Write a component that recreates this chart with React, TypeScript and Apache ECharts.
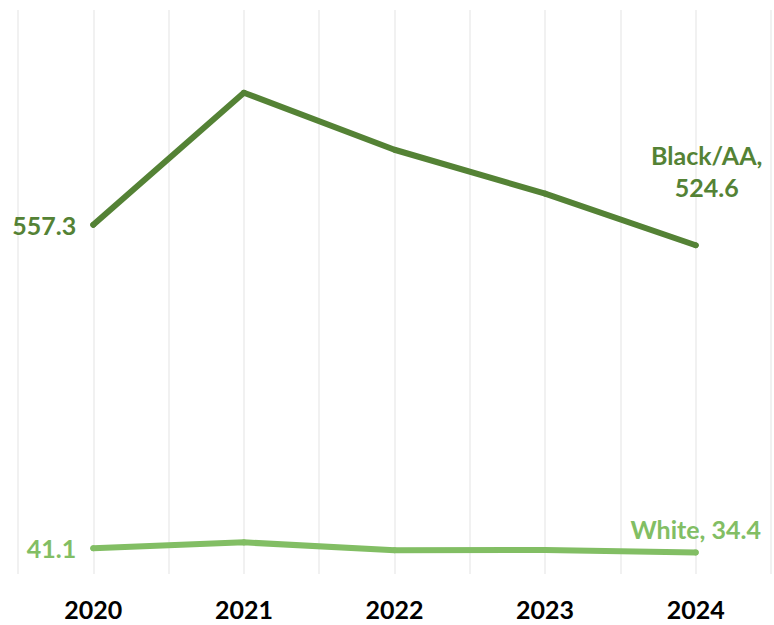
import React, { useEffect, useRef } from "react";
import * as echarts from "echarts";

const YEARS = ["2020", "2021", "2022", "2023", "2024"];
const BLACK_AA = [557.3, 768.0, 677.0, 607.0, 524.6];
const WHITE = [41.1, 50.5, 38.0, 38.2, 34.4];

const DARK = "#548235";
const LIGHT = "#82BE64";
const FONT = "Lato";

export default function App() {
  const ref = useRef<HTMLDivElement>(null);
  useEffect(() => {
    if (!ref.current) return;
    const chart = echarts.init(ref.current, undefined, { renderer: "svg" });
    const last = YEARS.length - 1;
    const mkData = (vals: number[], name: string, color: string) =>
      vals.map((v, i) => {
        const item: any = { value: [i, v] };
        if (i === 0) {
          item.label = {
            show: true,
            position: "left",
            distance: 14,
            formatter: v.toFixed(1),
            color,
            opacity: 1,
            fontFamily: FONT,
            fontWeight: "bold",
            fontSize: 25,
          };
        } else if (i === last) {
          const isBlack = name === "Black/AA";
          item.label = {
            show: true,
            position: "top",
            distance: isBlack ? 39 : 4,
            offset: isBlack ? [11, 0] : [0, 0],
            formatter: isBlack ? `${name},\n${v.toFixed(1)}` : `${name}, ${v.toFixed(1)}`,
            color,
            opacity: 1,
            fontFamily: FONT,
            fontWeight: "bold",
            fontSize: 25,
            lineHeight: 32,
            align: "center",
          };
        }
        return item;
      });
    const lineSeries = (name: string, vals: number[], color: string) => ({
      type: "line",
      name,
      data: mkData(vals, name, color),
      symbol: "circle",
      symbolSize: 6,
      showSymbol: true,
      itemStyle: { color },
      label: { show: false },
      lineStyle: { color, width: 6, cap: "round", join: "round" },
    });
    chart.setOption({
      animation: false,
      grid: { left: 18, right: 2, top: 10, bottom: 51, containLabel: false },
      xAxis: {
        type: "value",
        min: -0.5,
        max: YEARS.length - 0.5,
        interval: 0.5,
        axisLine: { show: false },
        axisTick: { show: false },
        splitLine: { show: true, lineStyle: { color: "#ECECEC", width: 1.5 } },
        axisLabel: {
          margin: 22,
          color: "#000",
          fontFamily: FONT,
          fontWeight: "bold",
          fontSize: 25,
          formatter: (v: number) =>
            Number.isInteger(v) && v >= 0 && v < YEARS.length ? YEARS[v] : "",
        },
      },
      yAxis: {
        type: "value",
        min: 0,
        max: 900,
        show: false,
        splitLine: { show: false },
      },
      series: [
        lineSeries("Black/AA", BLACK_AA, DARK),
        lineSeries("White", WHITE, LIGHT),
      ],
    });
    return () => chart.dispose();
  }, []);
  return <div ref={ref} style={{ width: 774, height: 625, position: "absolute", left: 0, top: 0 }} />;
}
